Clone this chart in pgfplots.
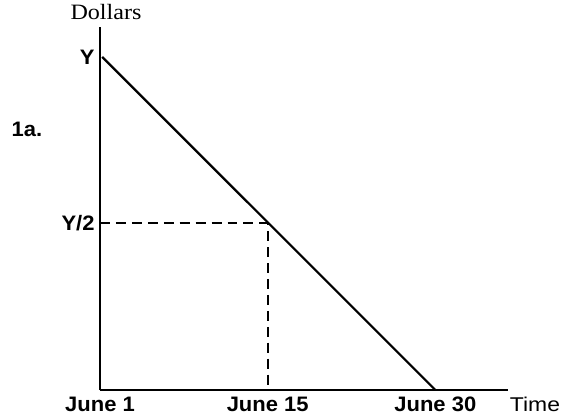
\documentclass[border=0pt]{standalone}
\usepackage{fontspec}
\setmainfont{Liberation Serif}
\newfontfamily\lab[FakeStretch=1.05]{Liberation Sans}
\newfontfamily\tim[FakeStretch=1.15]{Liberation Sans}
\newfontfamily\dol[FakeStretch=1.1]{Liberation Serif}
\usepackage{pgfplots}
\pgfplotsset{compat=1.18}
\begin{document}
\begin{tikzpicture}
\useasboundingbox (-100bp,-27bp) rectangle (473bp,390bp);
\begin{axis}[
  at={(0,0)}, anchor=origin,
  scale only axis,
  width=408bp, height=363bp,
  xmin=0, xmax=36.5, ymin=0, ymax=1.09,
  axis x line=bottom, axis y line=left,
  axis line style={-, line width=2.2pt, black},
  xtick={0,15,30}, xticklabels={June 1,June 15,June 30},
  ytick={0.5,1}, yticklabels={Y/2,Y},
  major tick length=0pt,
  tick style={draw=none},
  xticklabel style={font=\lab\fontsize{21}{21}\selectfont\bfseries, anchor=base, yshift=-21bp},
  yticklabel style={font=\lab\fontsize{21}{21}\selectfont\bfseries, anchor=east, xshift=-2bp},
  clip=false,
]
\addplot[black, line width=2.2pt] coordinates {(0.2,1) (30,0)};
\addplot[black, line width=2pt, dash pattern=on 10pt off 6pt] coordinates {(0,0.5) (15,0.5) (15,0)};
\end{axis}
\node[font=\dol\fontsize{22}{22}\selectfont, anchor=base] at (6bp,370bp) {Dollars};
\node[font=\lab\fontsize{21}{21}\selectfont\bfseries] at (-73bp,261bp) {1a.};
\node[font=\tim\fontsize{20}{20}\selectfont, anchor=base] at (435bp,-21bp) {Time};
\end{tikzpicture}
\end{document}
